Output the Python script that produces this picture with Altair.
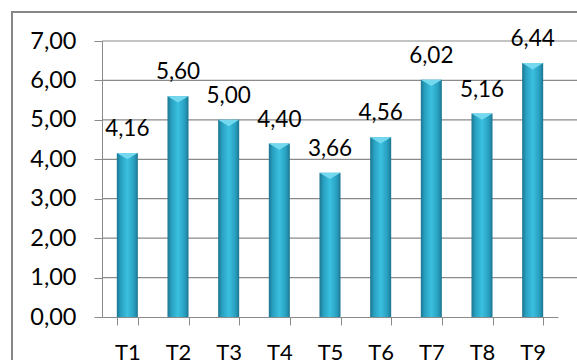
import altair as alt
import pandas as pd

categories = ["T1", "T2", "T3", "T4", "T5", "T6", "T7", "T8", "T9"]
values = [4.16, 5.60, 5.00, 4.40, 3.66, 4.56, 6.02, 5.16, 6.44]
y_ticks = [0, 1, 2, 3, 4, 5, 6, 7]

df = pd.DataFrame({"cat": categories, "val": values})
grid_df = pd.DataFrame({"g": [t for t in y_ticks if t > 0]})
one = pd.DataFrame({"a": [0]})

FONT = "Lato"
GRID = "#8a8a8a"

x_enc = alt.X("cat:N", sort=categories, title=None,
              scale=alt.Scale(paddingInner=0.585, paddingOuter=0.2925),
              axis=alt.Axis(labelAngle=0, tickBand="extent", tickSize=8,
                            tickColor=GRID, domainColor=GRID, labelFont=FONT,
                            labelFontSize=22, labelColor="#000", labelPadding=17,
                            labelOverlap=False, grid=False))
y_scale = alt.Scale(domain=[0, 7], nice=False)
y_axis = alt.Axis(values=y_ticks, tickSize=8, tickColor=GRID, ticks=True,
                  domainColor=GRID, grid=False, labelFont=FONT,
                  labelFontSize=23.5, labelColor="#000", labelPadding=18,
                  labelOverlap=False, labelFlush=False, labelBound=False,
                  labelExpr="replace(format(datum.value, '.2f'), '.', ',')")

border = alt.Chart(one).mark_rect(fill=None, stroke="#868686", strokeWidth=2).encode(
    x=alt.value(-90), x2=alt.value(490), y=alt.value(-29), y2=alt.value(420))

grid = alt.Chart(grid_df).mark_rule(color=GRID, strokeWidth=1.2).encode(
    y=alt.Y("g:Q", scale=y_scale, axis=None),
    x=alt.value(0), x2=alt.value(490))

grad = alt.Gradient(
    gradient="linear", x1=0, x2=1, y1=0, y2=0,
    stops=[alt.GradientStop(offset=0, color="#1b7590"),
           alt.GradientStop(offset=0.18, color="#289fbf"),
           alt.GradientStop(offset=0.5, color="#3bc0e0"),
           alt.GradientStop(offset=0.82, color="#289fbf"),
           alt.GradientStop(offset=1, color="#1b7590")])

bars = alt.Chart(df).mark_bar(fill=grad).encode(
    x=x_enc, y=alt.Y("val:Q", scale=y_scale, axis=y_axis, title=None))

cap = alt.Chart(df).mark_point(
    shape="M-1,0L1,0L0,0.6Z", filled=True, fill="#74d9ef", opacity=1,
    size=441, strokeWidth=0).encode(x=alt.X("cat:N", sort=categories),
                                    y=alt.Y("val:Q", scale=y_scale, axis=None))

labels = alt.Chart(df).transform_calculate(
    lab="replace(format(datum.val, '.2f'), '.', ',')"
).mark_text(font=FONT, fontSize=22.5, color="#000", baseline="alphabetic", dy=-17).encode(
    x=alt.X("cat:N", sort=categories),
    y=alt.Y("val:Q", scale=y_scale, axis=None), text="lab:N")

chart = alt.layer(border, grid, bars, cap, labels).resolve_axis(y="independent").properties(
    width=456, height=276,
    autosize=alt.AutoSizeParams(type="none"),
    padding={"left": 102, "top": 41, "right": 19, "bottom": 43},
    background="white",
).configure_view(stroke=None)

chart.save("out.html", embed_options={"renderer": "svg", "actions": False})
